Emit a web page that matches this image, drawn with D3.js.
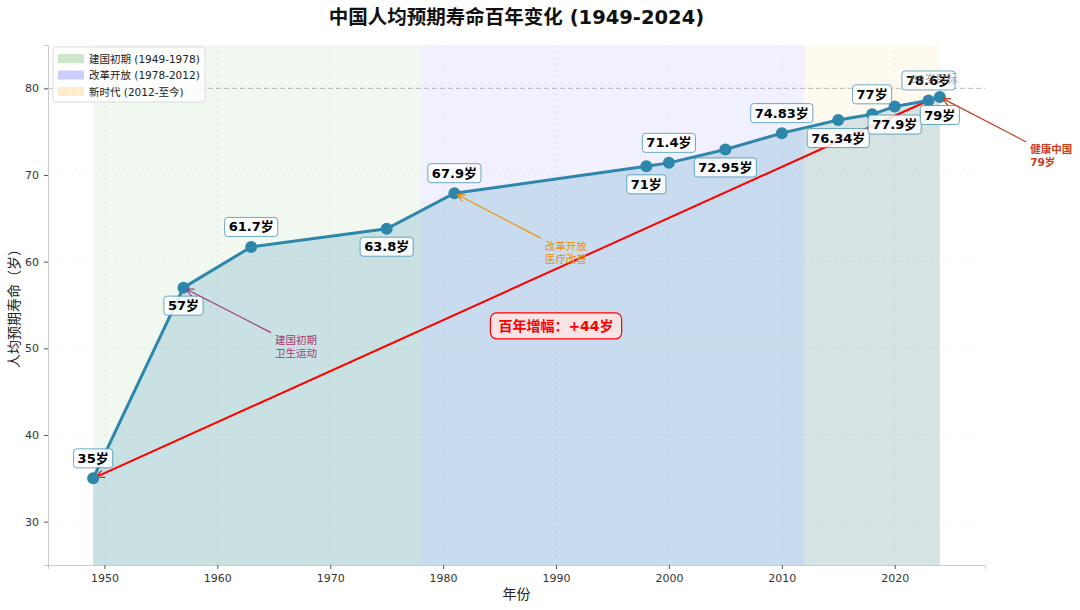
<!DOCTYPE html>
<html>
<head>
<meta charset="utf-8">
<script src="https://cdn.jsdelivr.net/npm/d3@7/dist/d3.min.js"></script>
<style>
  body { margin: 0; background: #fff; }
  svg { font-family: "DejaVu Sans", "Noto Sans CJK SC", sans-serif; }
</style>
</head>
<body>
<div id="chart"></div>
<script>
// 数据
const years = [1949, 1957, 1963, 1975, 1981, 1998, 2000, 2005, 2010, 2015, 2018, 2020, 2023, 2024];
const lifeExp = [35, 57, 61.7, 63.8, 67.9, 71, 71.4, 72.95, 74.83, 76.34, 77, 77.9, 78.6, 79];
const periodNames = ["建国初期 (1949-1978)", "改革开放 (1978-2012)", "新时代 (2012-至今)"];
const periodStart = [1949, 1978, 2012];
const periodEnd = [1978, 2012, 2024];
const periodColors = ["green", "blue", "orange"];
const xTicks = [1950, 1960, 1970, 1980, 1990, 2000, 2010, 2020];
const yTicks = [30, 40, 50, 60, 70, 80];
const notes = [
    { lines: ["建国初期", "卫生运动"], year: 1957, value: 57, tx: 1965.1, ty: 50.2, color: "#A23B72", bold: false },
    { lines: ["改革开放", "医疗改善"], year: 1981, value: 67.9, tx: 1989.0, ty: 61.1, color: "#F18F01", bold: false },
    { lines: ["健康中国", "79岁"], year: 2024, value: 79, tx: 2032.0, ty: 72.2, color: "#C73E1D", bold: true }
];

const width = 1080, height = 610;
const margin = { top: 45, right: 95, bottom: 45, left: 48 };
const lineColor = "#2E86AB";

const svg = d3.select("#chart").append("svg")
    .attr("width", width)
    .attr("height", height);

const x = d3.scaleLinear().domain([1945, 2028]).range([margin.left, width - margin.right]);
const y = d3.scaleLinear().domain([25, 85]).range([height - margin.bottom, margin.top]);

// 箭头
const defs = svg.append("defs");
function arrowMarker(id, color) {
    defs.append("marker")
        .attr("id", id)
        .attr("viewBox", "0 0 10 10")
        .attr("refX", 9).attr("refY", 5)
        .attr("markerWidth", 8).attr("markerHeight", 8)
        .attr("markerUnits", "userSpaceOnUse")
        .attr("orient", "auto")
        .append("path")
        .attr("d", "M0,0 L10,5 L0,10")
        .attr("fill", "none")
        .attr("stroke", color)
        .attr("stroke-width", 1.5);
}
arrowMarker("arr-red", "red");
notes.forEach((n, i) => arrowMarker("arr-" + i, n.color));

// 时期背景
periodNames.forEach((name, i) => {
    svg.append("rect")
        .attr("x", x(periodStart[i]))
        .attr("y", margin.top)
        .attr("width", x(periodEnd[i]) - x(periodStart[i]))
        .attr("height", y(25) - margin.top)
        .attr("fill", periodColors[i])
        .attr("opacity", 0.06);
});

// 网格
svg.append("g").selectAll("line").data(xTicks).enter().append("line")
    .attr("x1", d => x(d)).attr("x2", d => x(d))
    .attr("y1", margin.top).attr("y2", y(25))
    .attr("stroke", "#b0b0b0").attr("stroke-opacity", 0.15)
    .attr("stroke-dasharray", "3,3").attr("stroke-width", 0.8);
svg.append("g").selectAll("line").data(yTicks).enter().append("line")
    .attr("x1", margin.left).attr("x2", width - margin.right)
    .attr("y1", d => y(d)).attr("y2", d => y(d))
    .attr("stroke", "#b0b0b0").attr("stroke-opacity", 0.15)
    .attr("stroke-dasharray", "3,3").attr("stroke-width", 0.8);

const pts = years.map((yr, i) => ({ year: yr, value: lifeExp[i], i }));

// 面积
svg.append("path")
    .datum(pts)
    .attr("d", d3.area().x(d => x(d.year)).y0(y(25)).y1(d => y(d.value)))
    .attr("fill", lineColor)
    .attr("opacity", 0.2);

// 80岁目标线
svg.append("line")
    .attr("x1", margin.left).attr("x2", width - margin.right)
    .attr("y1", y(80)).attr("y2", y(80))
    .attr("stroke", "gray").attr("stroke-opacity", 0.5)
    .attr("stroke-dasharray", "5,3").attr("stroke-width", 1);

// 坐标轴
const axisColor = "#cccccc";
const xAxis = svg.append("g")
    .attr("transform", `translate(0,${y(25)})`)
    .call(d3.axisBottom(x).tickValues(xTicks).tickFormat(d3.format("d")).tickSize(4).tickPadding(5));
const yAxis = svg.append("g")
    .attr("transform", `translate(${margin.left},0)`)
    .call(d3.axisLeft(y).tickValues(yTicks).tickSize(4).tickPadding(5));
[xAxis, yAxis].forEach(g => {
    g.select(".domain").attr("stroke", axisColor);
    g.selectAll(".tick line").attr("stroke", "#555");
    g.selectAll("text").attr("font-size", 11).attr("fill", "#333")
        .attr("font-family", "DejaVu Sans, sans-serif");
});

// 红色增幅箭头
const first = pts[0], last = pts[pts.length - 2];
const dx = x(first.year) - x(last.year), dy = y(first.value) - y(last.value);
const len = Math.sqrt(dx * dx + dy * dy);
svg.append("line")
    .attr("x1", x(last.year)).attr("y1", y(last.value))
    .attr("x2", x(first.year) - dx / len * 4).attr("y2", y(first.value) - dy / len * 4)
    .attr("stroke", "red").attr("stroke-width", 2)
    .attr("marker-end", "url(#arr-red)");

// 主线
svg.append("path")
    .datum(pts)
    .attr("d", d3.line().x(d => x(d.year)).y(d => y(d.value)))
    .attr("fill", "none")
    .attr("stroke", lineColor)
    .attr("stroke-width", 3);

svg.selectAll(".dot").data(pts).enter().append("circle")
    .attr("cx", d => x(d.year)).attr("cy", d => y(d.value))
    .attr("r", 6).attr("fill", lineColor);

// 数据标签
pts.forEach(d => {
    const above = d.i % 2 === 0;
    const cx = x(d.year), cy = y(d.value) + (above ? -20 : 18);
    const g = svg.append("g");
    const t = g.append("text")
        .attr("x", cx).attr("y", cy)
        .attr("text-anchor", "middle").attr("dominant-baseline", "central")
        .attr("font-size", 13).attr("font-weight", "bold").attr("fill", "#000")
        .text(d3.format("")(d.value) + "岁");
    const bb = t.node().getBBox();
    g.insert("rect", "text")
        .attr("x", bb.x - 4).attr("y", cy - 9.5)
        .attr("width", bb.width + 8).attr("height", 19)
        .attr("rx", 3)
        .attr("fill", "white").attr("fill-opacity", 0.85)
        .attr("stroke", lineColor).attr("stroke-opacity", 0.7).attr("stroke-width", 1);
});

svg.append("text")
    .attr("x", x(2021.4)).attr("y", y(80) - 5)
    .attr("font-size", 11).attr("fill", "gray").attr("opacity", 0.7)
    .text("80岁目标");

// 注释
notes.forEach((n, i) => {
    const tx = x(n.tx), tyc = y(n.ty);
    const lh = 13;
    n.lines.forEach((s, k) => {
        svg.append("text")
            .attr("x", tx).attr("y", tyc + (k - 0.5) * lh)
            .attr("dominant-baseline", "central")
            .attr("font-size", 10.5)
            .attr("font-weight", n.bold ? "bold" : "normal")
            .attr("fill", n.color)
            .text(s);
    });
    const sx = tx - 4, sy = tyc - lh - 1;
    const ex = x(n.year), ey = y(n.value);
    const ax = ex - sx, ay = ey - sy, al = Math.sqrt(ax * ax + ay * ay);
    svg.append("line")
        .attr("x1", sx).attr("y1", sy)
        .attr("x2", ex - ax / al * 4).attr("y2", ey - ay / al * 4)
        .attr("stroke", n.color).attr("stroke-width", 1.2)
        .attr("marker-end", `url(#arr-${i})`);
});

// 百年增幅
const gainX = x(1990.0), gainY = y(52.6);
const gainG = svg.append("g");
const gainT = gainG.append("text")
    .attr("x", gainX).attr("y", gainY)
    .attr("text-anchor", "middle").attr("dominant-baseline", "central")
    .attr("font-size", 14).attr("font-weight", "bold").attr("fill", "red")
    .text("百年增幅：+" + (lifeExp[lifeExp.length - 1] - lifeExp[0]) + "岁");
const gb = gainT.node().getBBox();
gainG.insert("rect", "text")
    .attr("x", gb.x - 8).attr("y", gainY - 13)
    .attr("width", gb.width + 16).attr("height", 26)
    .attr("rx", 6)
    .attr("fill", "#ffe3e3").attr("fill-opacity", 0.9)
    .attr("stroke", "red").attr("stroke-width", 1.2);

// 图例
const lg = svg.append("g").attr("transform", "translate(53,47)");
lg.append("rect").attr("width", 152).attr("height", 55).attr("rx", 3)
    .attr("fill", "white").attr("fill-opacity", 0.8).attr("stroke", "#ddd");
periodNames.forEach((name, i) => {
    lg.append("rect").attr("x", 5).attr("y", 7 + i * 16.5).attr("width", 26).attr("height", 9)
        .attr("fill", periodColors[i]).attr("opacity", 0.2);
    lg.append("text").attr("x", 36).attr("y", 11.5 + i * 16.5)
        .attr("dominant-baseline", "central")
        .attr("font-size", 10.5).attr("fill", "#222").text(name);
});

// 标题与轴标签
svg.append("text")
    .attr("x", (margin.left + width - margin.right) / 2).attr("y", 17)
    .attr("text-anchor", "middle").attr("dominant-baseline", "central")
    .attr("font-size", 19.5).attr("font-weight", "bold").attr("fill", "#111")
    .text("中国人均预期寿命百年变化 (1949-2024)");
svg.append("text")
    .attr("x", (margin.left + width - margin.right) / 2).attr("y", 594)
    .attr("text-anchor", "middle").attr("dominant-baseline", "central")
    .attr("font-size", 14).attr("fill", "#222").text("年份");
svg.append("text")
    .attr("transform", `translate(14,${(margin.top + y(25)) / 2}) rotate(-90)`)
    .attr("text-anchor", "middle").attr("dominant-baseline", "central")
    .attr("font-size", 14).attr("fill", "#222").text("人均预期寿命（岁）");
</script>
</body>
</html>
